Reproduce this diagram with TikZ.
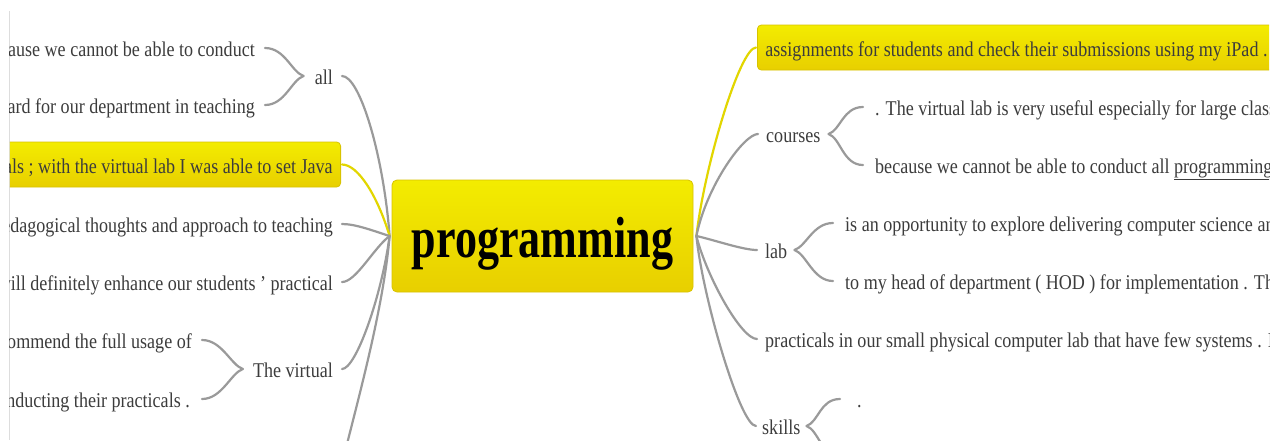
\documentclass[tikz,border=0pt]{standalone}
\usepackage{fontspec}
\setmainfont{Liberation Serif}[FakeStretch=0.86]
\newfontfamily\centerfont{Liberation Serif}[FakeStretch=0.76]
\definecolor{textgray}{HTML}{3C3C3C}
\definecolor{linegray}{HTML}{9A9A9A}
\definecolor{lineyellow}{HTML}{E2D600}
\definecolor{ytop}{HTML}{F3EC00}
\definecolor{ybot}{HTML}{E8CF00}
\definecolor{yborder}{HTML}{D8C300}
\definecolor{edgegray}{HTML}{DDDDDD}
\begin{document}
\begin{tikzpicture}[x=1pt,y=-1pt,
  txt/.style={font=\fontsize{21}{25}\selectfont, text=textgray, inner sep=0pt, text height=16pt, text depth=0pt},
  lt/.style={txt, anchor=base east},
  rt/.style={txt, anchor=base west},
  hl/.style={txt, top color=ytop, bottom color=ybot, draw=yborder, line width=0.8pt, rounded corners=4pt, inner xsep=8pt, inner ysep=9pt, text height=22pt, text depth=5pt},
  conn/.style={draw=linegray, line width=2.2pt, line cap=round},
  yconn/.style={draw=lineyellow, line width=2.2pt, line cap=round},
  centerbox/.style={top color=ytop, bottom color=ybot, draw=yborder, line width=0.8pt, rounded corners=5pt, minimum width=301pt, minimum height=112pt, inner sep=0pt, text height=52pt, text depth=10pt, font=\centerfont\bfseries\fontsize{58}{60}\selectfont}
]
\useasboundingbox (0,0) rectangle (1285,440);
\fill[white] (0,0) rectangle (1285,440);
\draw[edgegray, line width=1pt] (9,11) -- (9,440);
\begin{scope}
\clip (9.8,0) rectangle (1269,440);
% center
\node[centerbox] (C) at (542.5,236) {programming};
% left side
\node[lt] (La1) at (255,56) {because we cannot be able to conduct};
\node[lt] (La2) at (255,113) {hard for our department in teaching};
\node[lt] (Lall) at (333,84) {all};
\node[hl, anchor=base east] (Ly) at (341,173) {practicals ; with the virtual lab I was able to set Java};
\node[lt] (Lp) at (333,232) {pedagogical thoughts and approach to teaching};
\node[lt] (Lw) at (333,290) {will definitely enhance our students ’ practical};
\node[lt] (Lv) at (333,377) {The virtual};
\node[lt] (Lv1) at (192,348) {recommend the full usage of};
\node[lt] (Lv2) at (190,407) {conducting their practicals .};
\coordinate (Lb) at (345,452);
% right side
\node[hl, anchor=base west] (Ry) at (757,56) {assignments for students and check their submissions using my iPad .\hspace{40pt}};
\node[rt] (Rc) at (766,142) {courses};
\node[rt] (Rc1) at (875,115) {. The virtual lab is very useful especially for large classes};
\node[rt] (Rc2) at (875,173) {because we cannot be able to conduct all \underline{programming}};
\node[rt] (Rl) at (765,258) {lab};
\node[rt] (Rl1) at (845,231) {is an opportunity to explore delivering computer science and};
\node[rt] (Rl2) at (845,289) {to my head of department ( HOD ) for implementation . The};
\node[rt] (Rp) at (765,347) {practicals in our small physical computer lab that have few systems . It};
\node[rt] (Rs) at (762,434) {skills};
\node[rt] (Rs1) at (857,407) {.};
\coordinate (Rs2) at (842,458);
% left connectors
\draw[conn] ([xshift=-2pt]C.west) .. controls +(-6,-80) and +(18,0) .. ([xshift=9pt]Lall.east);
\draw[yconn] ([xshift=-2pt]C.west) .. controls +(-12,-40) and +(16,0) .. ([xshift=1pt]Ly.east);
\draw[conn] ([xshift=-2pt]C.west) .. controls +(-16,-5) and +(14,0) .. ([xshift=9pt]Lp.east);
\draw[conn] ([xshift=-2pt]C.west) .. controls +(-16,12) and +(14,0) .. ([xshift=9pt]Lw.east);
\draw[conn] ([xshift=-2pt]C.west) .. controls +(-8,60) and +(14,0) .. ([xshift=9pt]Lv.east);
\draw[conn] ([xshift=-2pt]C.west) .. controls +(-6,70) and +(15,-60) .. (Lb);
% left brackets
\draw[conn] ([xshift=-11pt]Lall.west) .. controls +(-12,-4) and +(20,0) .. ([xshift=10pt]La1.east);
\draw[conn] ([xshift=-11pt]Lall.west) .. controls +(-12,4) and +(20,0) .. ([xshift=10pt]La2.east);
\draw[conn] ([xshift=-10pt]Lv.west) .. controls +(-12,-4) and +(20,0) .. ([xshift=10pt]Lv1.east);
\draw[conn] ([xshift=-10pt]Lv.west) .. controls +(-12,4) and +(20,0) .. ([xshift=12pt]Lv2.east);
% right connectors
\draw[yconn] ([xshift=3pt]C.east) .. controls +(8,-70) and +(-16,0) .. ([xshift=-1pt]Ry.west);
\draw[conn] ([xshift=3pt]C.east) .. controls +(10,-50) and +(-14,0) .. ([xshift=-8pt]Rc.west);
\draw[conn] ([xshift=3pt]C.east) .. controls +(18,4) and +(-14,0) .. ([xshift=-8pt]Rl.west);
\draw[conn] ([xshift=3pt]C.east) .. controls +(10,40) and +(-16,0) .. ([xshift=-8pt]Rp.west);
\draw[conn] ([xshift=3pt]C.east) .. controls +(6,60) and +(-16,0) .. ([xshift=-6pt]Rs.west);
% right brackets
\draw[conn] ([xshift=8pt]Rc.east) .. controls +(12,-4) and +(-20,0) .. ([xshift=-12pt]Rc1.west);
\draw[conn] ([xshift=8pt]Rc.east) .. controls +(12,4) and +(-20,0) .. ([xshift=-12pt]Rc2.west);
\draw[conn] ([xshift=7pt]Rl.east) .. controls +(12,-4) and +(-20,0) .. ([xshift=-12pt]Rl1.west);
\draw[conn] ([xshift=7pt]Rl.east) .. controls +(12,4) and +(-20,0) .. ([xshift=-12pt]Rl2.west);
\draw[conn] ([xshift=6pt]Rs.east) .. controls +(12,-4) and +(-20,0) .. ([xshift=-17pt]Rs1.west);
\draw[conn] ([xshift=6pt]Rs.east) .. controls +(12,4) and +(-20,0) .. (Rs2);
\end{scope}
\end{tikzpicture}
\end{document}
